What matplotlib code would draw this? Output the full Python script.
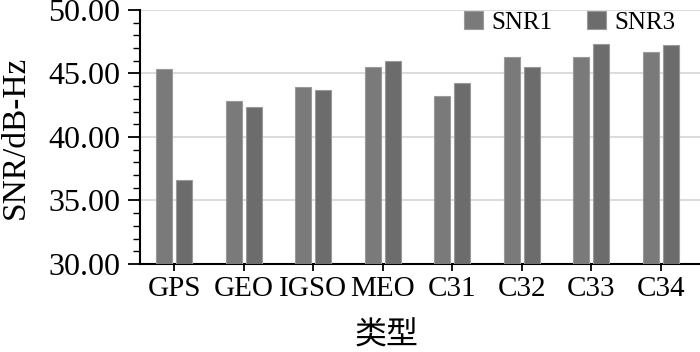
import matplotlib.pyplot as plt
import numpy as np
from matplotlib.ticker import MultipleLocator

plt.rcParams['font.family'] = ['Liberation Serif', 'Noto Sans CJK SC']

# 类型 / SNR values
leixing = ["GPS", "GEO", "IGSO", "MEO", "C31", "C32", "C33", "C34"]
snr1 = [45.38, 42.86, 43.94, 45.49, 43.23, 46.33, 46.28, 46.69]
snr3 = [36.61, 42.34, 43.72, 45.96, 44.28, 45.49, 47.35, 47.27]

fig = plt.figure(figsize=(7, 3.52), dpi=100)
ax = fig.add_axes([0.2, 0.25, 0.8, 0.7216])

x = np.arange(len(leixing))
w = 0.23
ax.bar(x - 0.144, snr1, w, color="#7a7a7a", edgecolor="#9a9a9a", linewidth=0.8, label="SNR1", zorder=3)
ax.bar(x + 0.144, snr3, w, color="#6c6c6c", edgecolor="#9a9a9a", linewidth=0.8, label="SNR3", zorder=3)

ax.set_ylim(30, 50)
ax.set_xlim(-0.49, 7.56)
ax.yaxis.set_minor_locator(MultipleLocator(1))
ax.set_yticks([30, 35, 40, 45, 50])
ax.set_yticklabels(["%.2f" % v for v in [30, 35, 40, 45, 50]], fontsize=23)
ax.set_xticks(x)
ax.set_xticklabels(leixing, fontsize=21)
ax.grid(axis="y", color="#d6d6d6", linewidth=1.2, zorder=0)

for s in ["top", "right"]:
    ax.spines[s].set_visible(False)
ax.spines["left"].set_linewidth(1.5)
ax.spines["bottom"].set_linewidth(1.5)
ax.tick_params(axis="y", which="major", length=9, width=1.3, pad=5)
ax.tick_params(axis="y", which="minor", length=5, width=1.0)
ax.tick_params(axis="x", length=5, width=1.3, pad=4)

ax.set_ylabel("SNR/dB-Hz", fontsize=24)
ax.yaxis.set_label_coords(-0.195, 0.5)
ax.set_xlabel("类型", fontsize=23, family=["Noto Sans CJK SC"])
ax.xaxis.set_label_coords(0.44, -0.22)

ax.legend(loc="upper right", ncol=2, frameon=False, fontsize=18,
          bbox_to_anchor=(0.975, 1.035), handlelength=0.75, handleheight=0.75,
          handletextpad=0.35, columnspacing=1.4, borderaxespad=0)

plt.savefig("out.png", dpi=100)
